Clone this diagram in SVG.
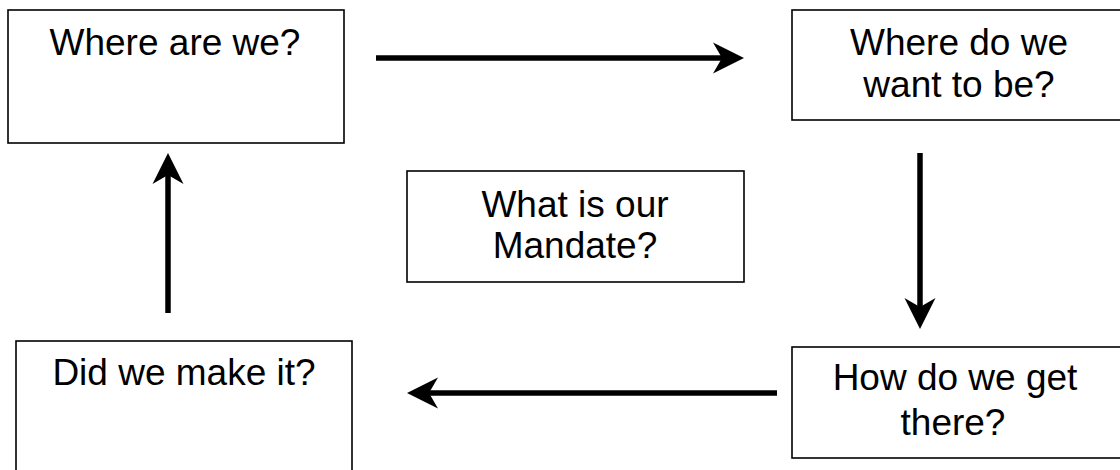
<svg xmlns="http://www.w3.org/2000/svg" width="1120" height="470" viewBox="0 0 1120 470">
<style>
.box{fill:#fff;stroke:#000;stroke-width:1.6}
.t{font-family:"Liberation Sans",Arial,sans-serif;font-size:37px;fill:#000;text-anchor:middle}
.c{stroke:#000;stroke-width:5.5;fill:none;marker-end:url(#ah)}
</style>
<defs>
<marker id="ah" markerUnits="userSpaceOnUse" markerWidth="32" markerHeight="32" refX="9" refY="16" orient="auto" viewBox="0 0 32 32">
<path d="M0,0.5 L31,16 L0,31.5 L9,16 Z" fill="#000"/>
</marker>
</defs>
<rect width="1120" height="470" fill="#fff"/>
<g id="n1"><rect class="box" x="8" y="10" width="336" height="133"/><text class="t" x="175" y="55">Where are we?</text></g>
<g id="n2"><rect class="box" x="792" y="10" width="336" height="110"/><text class="t" x="959" y="55">Where do we</text><text class="t" x="959" y="97">want to be?</text></g>
<g id="n3"><rect class="box" x="792" y="347" width="336" height="111"/><text class="t" x="955" y="390">How do we get</text><text class="t" x="953" y="435">there?</text></g>
<g id="n4"><rect class="box" x="16" y="341" width="336" height="133"/><text class="t" x="184" y="385">Did we make it?</text></g>
<g id="n5"><rect class="box" x="407" y="171" width="337" height="111"/><text class="t" x="575" y="217">What is our</text><text class="t" x="575" y="258">Mandate?</text></g>
<g id="connectors">
<line class="c" x1="376" y1="58" x2="722" y2="58"/>
<line class="c" x1="920" y1="153" x2="920" y2="307"/>
<line class="c" x1="777" y1="393" x2="429" y2="393"/>
<line class="c" x1="168" y1="313" x2="168" y2="175"/>
</g>
</svg>
